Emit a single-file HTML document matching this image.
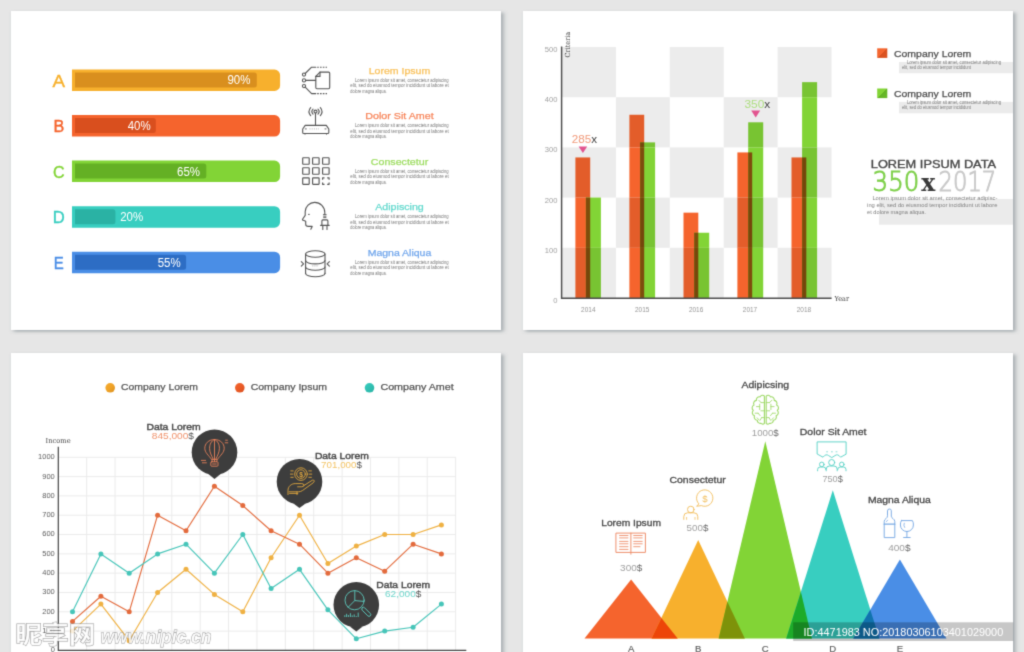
<!DOCTYPE html>
<html lang="en">
<head>
<meta charset="utf-8">
<title>Infographic charts</title>
<style>
html,body{margin:0;padding:0;background:#e6e6e6;}
body{width:1024px;height:652px;overflow:hidden;position:relative;}
svg{display:block;position:absolute;left:-20px;top:-20px;}
text{white-space:pre;}
.s{font-family:"Liberation Sans", "Noto Sans CJK SC", sans-serif;}
.f{font-family:"DejaVu Serif", "Liberation Serif", serif;}
.l{font-family:"DejaVu Sans Light", "DejaVu Sans", "Liberation Sans", sans-serif;font-weight:200;}
</style>
</head>
<body>
<svg width="1064" height="692" viewBox="-20 -20 1064 692">
<defs>
<filter id="bl" filterUnits="userSpaceOnUse" x="-20" y="-20" width="1064" height="692" color-interpolation-filters="sRGB"><feConvolveMatrix order="3" kernelMatrix="1 5 1 5 25 5 1 5 1" edgeMode="duplicate" preserveAlpha="true"/></filter>
<filter id="sh" x="-5%" y="-5%" width="110%" height="110%"><feDropShadow dx="2.5" dy="1.6" stdDeviation="2 1.5" flood-color="#5f6e75" flood-opacity="0.5"/></filter>
<linearGradient id="go" x1="0" y1="0" x2="1" y2="1"><stop offset="0" stop-color="#f4662f"/><stop offset="0.5" stop-color="#f4662f"/><stop offset="0.5" stop-color="#d9501f"/><stop offset="1" stop-color="#dc5623"/></linearGradient>
<linearGradient id="gg" x1="0" y1="0" x2="1" y2="1"><stop offset="0" stop-color="#82d436"/><stop offset="0.5" stop-color="#82d436"/><stop offset="0.5" stop-color="#62b325"/><stop offset="1" stop-color="#6bbb2b"/></linearGradient>
<linearGradient id="gy2" x1="0" y1="0" x2="1" y2="1"><stop offset="0" stop-color="#f5ab2e"/><stop offset="0.5" stop-color="#f0a328"/><stop offset="1" stop-color="#d98f1e"/></linearGradient>
<linearGradient id="go2" x1="0" y1="0" x2="1" y2="1"><stop offset="0" stop-color="#f4662f"/><stop offset="0.5" stop-color="#ea5b27"/><stop offset="1" stop-color="#d94f1e"/></linearGradient>
<linearGradient id="gc2" x1="0" y1="0" x2="1" y2="1"><stop offset="0" stop-color="#38cec0"/><stop offset="0.5" stop-color="#31c0b2"/><stop offset="1" stop-color="#2ab2a4"/></linearGradient>
</defs>
<g filter="url(#bl)">
<rect x="-20" y="-20" width="1064" height="692" fill="#e6e6e6"/>
<rect x="11" y="11" width="490" height="319" fill="#fff" filter="url(#sh)"/>
<rect x="523" y="11" width="490" height="319" fill="#fff" filter="url(#sh)"/>
<rect x="11" y="353" width="490" height="310" fill="#fff" filter="url(#sh)"/>
<rect x="523" y="353" width="490" height="310" fill="#fff" filter="url(#sh)"/>
<path d="M72.0 69.50H274.5a5.6 5.6 0 0 1 5.6 5.6V85.40a5.6 5.6 0 0 1 -5.6 5.6H72.0Z" fill="#f7b02d"/>
<path d="M75.0 72.50H254.30a2.5 2.5 0 0 1 2.5 2.5V85.00a2.5 2.5 0 0 1 -2.5 2.5H75.0Z" fill="#d98f1e"/>
<text class="s" x="58.8" y="86.8" font-size="16" fill="#f7b02d" text-anchor="middle" textLength="12.5" lengthAdjust="spacingAndGlyphs" stroke="#f7b02d" stroke-width="0.35">A</text>
<text class="s" x="250.4" y="84.4" font-size="12" fill="#fff" text-anchor="end" textLength="23.0" lengthAdjust="spacingAndGlyphs">90%</text>
<text class="s" x="399.5" y="73.8" font-size="9.6" fill="#f9c15b" text-anchor="middle" textLength="61.5" lengthAdjust="spacingAndGlyphs" stroke="#f9c15b" stroke-width="0.25">Lorem Ipsum</text>
<text class="s" x="355.0" y="81.8" font-size="4.7" fill="#757575" textLength="93.7" lengthAdjust="spacingAndGlyphs">Lorem ipsum dolor sit amet, consectetur adipiscing</text>
<text class="s" x="350.3" y="87.1" font-size="4.7" fill="#757575" textLength="98.4" lengthAdjust="spacingAndGlyphs">elit, sed do eiusmod tempor incididunt ut labore et</text>
<text class="s" x="350.3" y="92.5" font-size="4.7" fill="#757575" textLength="36.4" lengthAdjust="spacingAndGlyphs">dolore magna aliqua.</text>
<path d="M72.0 115.05H274.5a5.6 5.6 0 0 1 5.6 5.6V130.95a5.6 5.6 0 0 1 -5.6 5.6H72.0Z" fill="#f5642d"/>
<path d="M75.0 118.05H153.30a2.5 2.5 0 0 1 2.5 2.5V130.55a2.5 2.5 0 0 1 -2.5 2.5H75.0Z" fill="#d94f1e"/>
<text class="s" x="58.8" y="132.3" font-size="16" fill="#f5642d" text-anchor="middle" textLength="10.8" lengthAdjust="spacingAndGlyphs" stroke="#f5642d" stroke-width="0.35">B</text>
<text class="s" x="150.7" y="129.9" font-size="12" fill="#fff" text-anchor="end" textLength="23.0" lengthAdjust="spacingAndGlyphs">40%</text>
<text class="s" x="399.5" y="119.3" font-size="9.6" fill="#f7865b" text-anchor="middle" textLength="68.4" lengthAdjust="spacingAndGlyphs" stroke="#f7865b" stroke-width="0.25">Dolor Sit Amet</text>
<text class="s" x="355.0" y="127.3" font-size="4.7" fill="#757575" textLength="93.7" lengthAdjust="spacingAndGlyphs">Lorem ipsum dolor sit amet, consectetur adipiscing</text>
<text class="s" x="350.3" y="132.7" font-size="4.7" fill="#757575" textLength="98.4" lengthAdjust="spacingAndGlyphs">elit, sed do eiusmod tempor incididunt ut labore et</text>
<text class="s" x="350.3" y="138.0" font-size="4.7" fill="#757575" textLength="36.4" lengthAdjust="spacingAndGlyphs">dolore magna aliqua.</text>
<path d="M72.0 160.60H274.5a5.6 5.6 0 0 1 5.6 5.6V176.50a5.6 5.6 0 0 1 -5.6 5.6H72.0Z" fill="#82d436"/>
<path d="M75.0 163.60H203.80a2.5 2.5 0 0 1 2.5 2.5V176.10a2.5 2.5 0 0 1 -2.5 2.5H75.0Z" fill="#64b024"/>
<text class="s" x="58.8" y="177.9" font-size="16" fill="#82d436" text-anchor="middle" textLength="11.6" lengthAdjust="spacingAndGlyphs" stroke="#82d436" stroke-width="0.35">C</text>
<text class="s" x="200.0" y="175.5" font-size="12" fill="#fff" text-anchor="end" textLength="23.0" lengthAdjust="spacingAndGlyphs">65%</text>
<text class="s" x="399.5" y="164.9" font-size="9.6" fill="#9edd62" text-anchor="middle" textLength="57.4" lengthAdjust="spacingAndGlyphs" stroke="#9edd62" stroke-width="0.25">Consectetur</text>
<text class="s" x="355.0" y="172.9" font-size="4.7" fill="#757575" textLength="93.7" lengthAdjust="spacingAndGlyphs">Lorem ipsum dolor sit amet, consectetur adipiscing</text>
<text class="s" x="350.3" y="178.2" font-size="4.7" fill="#757575" textLength="98.4" lengthAdjust="spacingAndGlyphs">elit, sed do eiusmod tempor incididunt ut labore et</text>
<text class="s" x="350.3" y="183.6" font-size="4.7" fill="#757575" textLength="36.4" lengthAdjust="spacingAndGlyphs">dolore magna aliqua.</text>
<path d="M72.0 206.15H274.5a5.6 5.6 0 0 1 5.6 5.6V222.05a5.6 5.6 0 0 1 -5.6 5.6H72.0Z" fill="#38cec0"/>
<path d="M75.0 209.15H112.90a2.5 2.5 0 0 1 2.5 2.5V221.65a2.5 2.5 0 0 1 -2.5 2.5H75.0Z" fill="#2ab2a4"/>
<text class="s" x="58.8" y="223.4" font-size="16" fill="#38cec0" text-anchor="middle" textLength="12.0" lengthAdjust="spacingAndGlyphs" stroke="#38cec0" stroke-width="0.35">D</text>
<text class="s" x="120.2" y="221.0" font-size="12" fill="#fff" textLength="23.0" lengthAdjust="spacingAndGlyphs">20%</text>
<text class="s" x="399.5" y="210.4" font-size="9.6" fill="#64d9ce" text-anchor="middle" textLength="48.6" lengthAdjust="spacingAndGlyphs" stroke="#64d9ce" stroke-width="0.25">Adipiscing</text>
<text class="s" x="355.0" y="218.4" font-size="4.7" fill="#757575" textLength="93.7" lengthAdjust="spacingAndGlyphs">Lorem ipsum dolor sit amet, consectetur adipiscing</text>
<text class="s" x="350.3" y="223.8" font-size="4.7" fill="#757575" textLength="98.4" lengthAdjust="spacingAndGlyphs">elit, sed do eiusmod tempor incididunt ut labore et</text>
<text class="s" x="350.3" y="229.1" font-size="4.7" fill="#757575" textLength="36.4" lengthAdjust="spacingAndGlyphs">dolore magna aliqua.</text>
<path d="M72.0 251.70H274.5a5.6 5.6 0 0 1 5.6 5.6V267.60a5.6 5.6 0 0 1 -5.6 5.6H72.0Z" fill="#4a8ee6"/>
<path d="M75.0 254.70H183.60a2.5 2.5 0 0 1 2.5 2.5V267.20a2.5 2.5 0 0 1 -2.5 2.5H75.0Z" fill="#2d6dc4"/>
<text class="s" x="58.8" y="269.0" font-size="16" fill="#4a8ee6" text-anchor="middle" textLength="10.0" lengthAdjust="spacingAndGlyphs" stroke="#4a8ee6" stroke-width="0.35">E</text>
<text class="s" x="180.7" y="266.6" font-size="12" fill="#fff" text-anchor="end" textLength="23.0" lengthAdjust="spacingAndGlyphs">55%</text>
<text class="s" x="399.5" y="256.0" font-size="9.6" fill="#72a7ec" text-anchor="middle" textLength="63.6" lengthAdjust="spacingAndGlyphs" stroke="#72a7ec" stroke-width="0.25">Magna Aliqua</text>
<text class="s" x="355.0" y="264.0" font-size="4.7" fill="#757575" textLength="93.7" lengthAdjust="spacingAndGlyphs">Lorem ipsum dolor sit amet, consectetur adipiscing</text>
<text class="s" x="350.3" y="269.3" font-size="4.7" fill="#757575" textLength="98.4" lengthAdjust="spacingAndGlyphs">elit, sed do eiusmod tempor incididunt ut labore et</text>
<text class="s" x="350.3" y="274.7" font-size="4.7" fill="#757575" textLength="36.4" lengthAdjust="spacingAndGlyphs">dolore magna aliqua.</text>
<g fill="none" stroke="#555" stroke-width="1.1" stroke-linecap="round" stroke-linejoin="round"><path d="M315.8 76.4L320 72.1H328.6a1.1 1.1 0 0 1 1.1 1.1V87.6a1.1 1.1 0 0 1 -1.1 1.1H316.9a1.1 1.1 0 0 1 -1.1 -1.1Z"/><path d="M315.8 76.4H320V72.1"/><circle cx="304" cy="74.6" r="1.6"/><circle cx="304" cy="80.4" r="1.6"/><circle cx="304" cy="86.1" r="1.6"/><path d="M305.2 73.5L311.6 67.2H315.8"/><path d="M305.7 80.4H315.6"/><path d="M305.2 87.2L311.6 93.6H315.8"/><path d="M317.2 67.2H327M317.2 93.6H327" stroke-dasharray="1.6 1.2" stroke-linecap="butt"/></g>
<g fill="none" stroke="#555" stroke-width="1.1" stroke-linecap="round" stroke-linejoin="round"><path d="M305.2 125.4H326.3L328.8 129V132.4a1.1 1.1 0 0 1 -1.1 1.1H303.8a1.1 1.1 0 0 1 -1.1 -1.1V129Z"/><path d="M305 134.1V133.6M326.5 134.1V133.6"/><path d="M305.3 128.9H306.3M325 128.9H326" stroke-width="0.9"/><path d="M309.5 128.9H319" stroke-width="0.8" stroke-dasharray="1 1.2" stroke="#999" stroke-linecap="butt"/><path d="M315.5 113.1V125.2"/><circle cx="315.5" cy="111.6" r="1.5"/><path d="M313.03 114.07A3.5 3.5 0 0 1 313.03 109.13M317.97 109.13A3.5 3.5 0 0 1 317.97 114.07M310.67 115.65A6.3 6.3 0 0 1 310.67 107.55M320.33 107.55A6.3 6.3 0 0 1 320.33 115.65"/></g>
<g fill="none" stroke="#555" stroke-width="1.15" stroke-linecap="round" stroke-linejoin="round"><rect x="302.7" y="157.7" width="6.5" height="6.5" rx="0.5"/><rect x="312.6" y="157.7" width="6.5" height="6.5" rx="0.5"/><rect x="322.6" y="157.7" width="6.5" height="6.5" rx="0.5"/><rect x="302.7" y="167.7" width="6.5" height="6.5" rx="0.5"/><rect x="312.6" y="167.7" width="6.5" height="6.5" rx="0.5"/><rect x="322.6" y="167.7" width="6.5" height="6.5" rx="0.5"/><rect x="302.7" y="177.8" width="6.5" height="6.5" rx="0.5"/><rect x="312.6" y="177.8" width="6.5" height="6.5" rx="0.5"/><path d="M322.6 179.70000000000002V177.8H324.5M327.20000000000005 177.8H329.1V179.70000000000002M329.1 182.4V184.3H327.20000000000005M324.5 184.3H322.6V182.4" stroke-linecap="butt"/></g>
<g fill="none" stroke="#555" stroke-width="1.1" stroke-linecap="round" stroke-linejoin="round"><path d="M310.8 229.3L312.2 226.4H308.3Q305.7 226.3 305.7 224.2V221.3L302.6 220.1Q302.3 219.6 302.7 219L305.2 215.4V211.6A9.4 9.4 0 0 1 314.6 202.4A10.1 10.1 0 0 1 324.8 212.6V214.2"/><path d="M308.4 214.4H309.4" stroke-width="0.9"/><path d="M323.4 214.6H326.2M323.6 216.2H326M323.6 217.6H326" stroke-width="0.9"/><path d="M321.9 225.3V220.9a1 1 0 0 1 1 -1H326.9a1 1 0 0 1 1 1V225.3"/><path d="M320.6 225.4H329.2M322.8 225.6V229.4M327 225.6V229.4"/></g>
<g fill="none" stroke="#555" stroke-width="1.1" stroke-linecap="round" stroke-linejoin="round"><ellipse cx="315.3" cy="254" rx="9.7" ry="3.3"/><path d="M305.6 254V273.4M325 254V273.4"/><path d="M305.6 260.6A9.7 3.3 0 0 0 325 260.6"/><path d="M305.6 267.0A9.7 3.3 0 0 0 325 267.0"/><path d="M305.6 273.4A9.7 3.3 0 0 0 325 273.4"/><path d="M312.2 265.9H318.6" stroke-dasharray="1.2 0.9" stroke-width="0.9" stroke="#aaa" stroke-linecap="butt"/><path d="M301.3 261.7L303.6 263.9L301.3 266.2M329.4 261.7L327.1 263.9L329.4 266.2"/></g>
<rect x="562.00" y="47.00" width="53.90" height="50.20" fill="#ececec"/>
<rect x="669.80" y="47.00" width="53.90" height="50.20" fill="#ececec"/>
<rect x="777.60" y="47.00" width="53.90" height="50.20" fill="#ececec"/>
<rect x="615.90" y="97.20" width="53.90" height="50.20" fill="#ececec"/>
<rect x="723.70" y="97.20" width="53.90" height="50.20" fill="#ececec"/>
<rect x="562.00" y="147.40" width="53.90" height="50.20" fill="#ececec"/>
<rect x="669.80" y="147.40" width="53.90" height="50.20" fill="#ececec"/>
<rect x="777.60" y="147.40" width="53.90" height="50.20" fill="#ececec"/>
<rect x="615.90" y="197.60" width="53.90" height="50.20" fill="#ececec"/>
<rect x="723.70" y="197.60" width="53.90" height="50.20" fill="#ececec"/>
<rect x="562.00" y="247.80" width="53.90" height="50.20" fill="#ececec"/>
<rect x="669.80" y="247.80" width="53.90" height="50.20" fill="#ececec"/>
<rect x="777.60" y="247.80" width="53.90" height="50.20" fill="#ececec"/>
<rect x="575.40" y="157.44" width="14.80" height="40.21" fill="#e35d2a"/>
<rect x="575.40" y="197.60" width="14.80" height="50.25" fill="#f5642d"/>
<rect x="575.40" y="247.80" width="14.80" height="50.25" fill="#e35d2a"/>
<rect x="585.90" y="197.60" width="15.00" height="0.05" fill="#78c432"/>
<rect x="585.90" y="197.60" width="15.00" height="50.25" fill="#82d436"/>
<rect x="585.90" y="247.80" width="15.00" height="50.25" fill="#78c432"/>
<rect x="585.90" y="197.60" width="4.30" height="0.05" fill="#75470b"/>
<rect x="585.90" y="197.60" width="4.30" height="50.25" fill="#7e4d0c"/>
<rect x="585.90" y="247.80" width="4.30" height="50.25" fill="#75470b"/>
<rect x="629.40" y="114.77" width="14.80" height="32.68" fill="#e35d2a"/>
<rect x="629.40" y="147.40" width="14.80" height="50.25" fill="#f5642d"/>
<rect x="629.40" y="197.60" width="14.80" height="50.25" fill="#e35d2a"/>
<rect x="629.40" y="247.80" width="14.80" height="50.25" fill="#f5642d"/>
<rect x="640.10" y="142.38" width="15.00" height="5.07" fill="#78c432"/>
<rect x="640.10" y="147.40" width="15.00" height="50.25" fill="#82d436"/>
<rect x="640.10" y="197.60" width="15.00" height="50.25" fill="#78c432"/>
<rect x="640.10" y="247.80" width="15.00" height="50.25" fill="#82d436"/>
<rect x="640.10" y="142.38" width="4.10" height="5.07" fill="#75470b"/>
<rect x="640.10" y="147.40" width="4.10" height="50.25" fill="#7e4d0c"/>
<rect x="640.10" y="197.60" width="4.10" height="50.25" fill="#75470b"/>
<rect x="640.10" y="247.80" width="4.10" height="50.25" fill="#7e4d0c"/>
<rect x="683.50" y="212.66" width="14.80" height="35.19" fill="#f5642d"/>
<rect x="683.50" y="247.80" width="14.80" height="50.25" fill="#e35d2a"/>
<rect x="694.20" y="232.74" width="15.00" height="15.11" fill="#82d436"/>
<rect x="694.20" y="247.80" width="15.00" height="50.25" fill="#78c432"/>
<rect x="694.20" y="232.74" width="4.10" height="15.11" fill="#7e4d0c"/>
<rect x="694.20" y="247.80" width="4.10" height="50.25" fill="#75470b"/>
<rect x="737.40" y="152.42" width="14.80" height="45.23" fill="#f5642d"/>
<rect x="737.40" y="197.60" width="14.80" height="50.25" fill="#e35d2a"/>
<rect x="737.40" y="247.80" width="14.80" height="50.25" fill="#f5642d"/>
<rect x="748.20" y="122.30" width="15.00" height="25.15" fill="#78c432"/>
<rect x="748.20" y="147.40" width="15.00" height="50.25" fill="#82d436"/>
<rect x="748.20" y="197.60" width="15.00" height="50.25" fill="#78c432"/>
<rect x="748.20" y="247.80" width="15.00" height="50.25" fill="#82d436"/>
<rect x="748.20" y="152.42" width="4.00" height="45.23" fill="#7e4d0c"/>
<rect x="748.20" y="197.60" width="4.00" height="50.25" fill="#75470b"/>
<rect x="748.20" y="247.80" width="4.00" height="50.25" fill="#7e4d0c"/>
<rect x="791.50" y="157.44" width="14.80" height="40.21" fill="#e35d2a"/>
<rect x="791.50" y="197.60" width="14.80" height="50.25" fill="#f5642d"/>
<rect x="791.50" y="247.80" width="14.80" height="50.25" fill="#e35d2a"/>
<rect x="802.10" y="82.14" width="15.00" height="15.11" fill="#78c432"/>
<rect x="802.10" y="97.20" width="15.00" height="50.25" fill="#82d436"/>
<rect x="802.10" y="147.40" width="15.00" height="50.25" fill="#78c432"/>
<rect x="802.10" y="197.60" width="15.00" height="50.25" fill="#82d436"/>
<rect x="802.10" y="247.80" width="15.00" height="50.25" fill="#78c432"/>
<rect x="802.10" y="157.44" width="4.20" height="40.21" fill="#75470b"/>
<rect x="802.10" y="197.60" width="4.20" height="50.25" fill="#7e4d0c"/>
<rect x="802.10" y="247.80" width="4.20" height="50.25" fill="#75470b"/>
<path d="M561.6 46.5V298.2H831.6" fill="none" stroke="#4c4c4c" stroke-width="1.45"/>
<text class="s" x="557.4" y="52.0" font-size="7.6" fill="#a0a0a0" text-anchor="end">500</text>
<text class="s" x="557.4" y="102.2" font-size="7.6" fill="#a0a0a0" text-anchor="end">400</text>
<text class="s" x="557.4" y="152.4" font-size="7.6" fill="#a0a0a0" text-anchor="end">300</text>
<text class="s" x="557.4" y="202.6" font-size="7.6" fill="#a0a0a0" text-anchor="end">200</text>
<text class="s" x="557.4" y="252.8" font-size="7.6" fill="#a0a0a0" text-anchor="end">100</text>
<text class="s" x="557.4" y="303.0" font-size="7.6" fill="#a0a0a0" text-anchor="end">0</text>
<text class="s" x="588.3" y="311.9" font-size="7.2" fill="#969696" text-anchor="middle" textLength="14.4" lengthAdjust="spacingAndGlyphs">2014</text>
<text class="s" x="642.2" y="311.9" font-size="7.2" fill="#969696" text-anchor="middle" textLength="14.4" lengthAdjust="spacingAndGlyphs">2015</text>
<text class="s" x="696.1" y="311.9" font-size="7.2" fill="#969696" text-anchor="middle" textLength="14.4" lengthAdjust="spacingAndGlyphs">2016</text>
<text class="s" x="750.0" y="311.9" font-size="7.2" fill="#969696" text-anchor="middle" textLength="14.4" lengthAdjust="spacingAndGlyphs">2017</text>
<text class="s" x="803.9" y="311.9" font-size="7.2" fill="#969696" text-anchor="middle" textLength="14.4" lengthAdjust="spacingAndGlyphs">2018</text>
<text class="f" x="834.5" y="300.7" font-size="7" fill="#3c3c3c" textLength="14.5" lengthAdjust="spacingAndGlyphs">Year</text>
<text class="f" font-size="7" fill="#444" transform="translate(569.6 57.4) rotate(-90)" textLength="25.6" lengthAdjust="spacingAndGlyphs">Criteria</text>
<text class="s" x="571.8" y="143.4" font-size="11.6" textLength="25.3" lengthAdjust="spacingAndGlyphs"><tspan fill="#f19a7a">285</tspan><tspan fill="#444">x</tspan></text>
<path d="M578.6 146.4H587.2L582.9 153Z" fill="#e2548f"/>
<text class="s" x="744.5" y="108.1" font-size="11.6" textLength="25.8" lengthAdjust="spacingAndGlyphs"><tspan fill="#aede80">350</tspan><tspan fill="#444">x</tspan></text>
<path d="M751.2 110.6H760.2L755.7 117.4Z" fill="#e2548f"/>
<rect x="899" y="62" width="114" height="11.2" fill="#ebebeb"/>
<rect x="899" y="101.9" width="114" height="11.4" fill="#ebebeb"/>
<rect x="879" y="199" width="134" height="25.7" fill="#ebebeb"/>
<rect x="877.2" y="48.3" width="10.1" height="9.6" fill="url(#go)"/>
<rect x="877.2" y="88.5" width="10.1" height="9.6" fill="url(#gg)"/>
<text class="s" x="894.0" y="56.7" font-size="9.3" fill="#505050" textLength="77.3" lengthAdjust="spacingAndGlyphs" stroke="#505050" stroke-width="0.25">Company Lorem</text>
<text class="s" x="894.0" y="96.7" font-size="9.3" fill="#505050" textLength="77.3" lengthAdjust="spacingAndGlyphs" stroke="#505050" stroke-width="0.25">Company Lorem</text>
<text class="s" x="906.9" y="63.8" font-size="4.6" fill="#787878" textLength="94.1" lengthAdjust="spacingAndGlyphs">Lorem ipsum dolor sit amet, consectetur adipiscing</text>
<text class="s" x="901.9" y="69.0" font-size="4.6" fill="#787878" textLength="69.1" lengthAdjust="spacingAndGlyphs">elit, sed do eiusmod tempor incididunt</text>
<text class="s" x="906.9" y="103.7" font-size="4.6" fill="#787878" textLength="94.1" lengthAdjust="spacingAndGlyphs">Lorem ipsum dolor sit amet, consectetur adipiscing</text>
<text class="s" x="901.9" y="108.9" font-size="4.6" fill="#787878" textLength="69.1" lengthAdjust="spacingAndGlyphs">elit, sed do eiusmod tempor incididunt</text>
<text class="s" x="870.8" y="167.9" font-size="11.2" fill="#484848" textLength="125.3" lengthAdjust="spacingAndGlyphs" stroke="#484848" stroke-width="0.35">LOREM IPSUM DATA</text>
<text class="l" x="872.6" y="191.1" font-size="27.4" fill="#7fd04b" textLength="46.6" lengthAdjust="spacingAndGlyphs" stroke="#7fd04b" stroke-width="1.0">350</text>
<text class="f" x="921.2" y="191.1" font-size="25" fill="#3a3a3a" font-weight="bold" textLength="14.0" lengthAdjust="spacingAndGlyphs">x</text>
<text class="l" x="938.6" y="191.1" font-size="27.4" fill="#c9c9c9" textLength="57.6" lengthAdjust="spacingAndGlyphs" stroke="#c9c9c9" stroke-width="1.0">2017</text>
<text class="s" x="872.4" y="200.1" font-size="5.4" fill="#808080" textLength="125.0" lengthAdjust="spacingAndGlyphs">Lorem ipsum dolor sit amet, consectetur adipisc-</text>
<text class="s" x="867.1" y="206.8" font-size="5.4" fill="#808080" textLength="130.3" lengthAdjust="spacingAndGlyphs">ing elit, sed do eiusmod tempor incididunt ut labore</text>
<text class="s" x="867.1" y="213.6" font-size="5.4" fill="#808080" textLength="58.9" lengthAdjust="spacingAndGlyphs">et dolore magna aliqua.</text>
<path d="M86.68 457.3V650M115.06 457.3V650M143.44 457.3V650M171.82 457.3V650M200.20 457.3V650M228.58 457.3V650M256.96 457.3V650M285.34 457.3V650M313.72 457.3V650M342.10 457.3V650M370.48 457.3V650M398.86 457.3V650M427.24 457.3V650M455.62 457.3V650M58.3 457.30H455.8M58.3 476.61H455.8M58.3 495.92H455.8M58.3 515.23H455.8M58.3 534.54H455.8M58.3 553.85H455.8M58.3 573.16H455.8M58.3 592.47H455.8M58.3 611.78H455.8M58.3 631.09H455.8" fill="none" stroke="#ebebeb" stroke-width="1"/>
<text class="s" x="54.8" y="459.2" font-size="7.5" fill="#5c5c5c" text-anchor="end">1000</text>
<text class="s" x="54.8" y="478.5" font-size="7.5" fill="#5c5c5c" text-anchor="end">900</text>
<text class="s" x="54.8" y="497.8" font-size="7.5" fill="#5c5c5c" text-anchor="end">800</text>
<text class="s" x="54.8" y="517.1" font-size="7.5" fill="#5c5c5c" text-anchor="end">700</text>
<text class="s" x="54.8" y="536.4" font-size="7.5" fill="#5c5c5c" text-anchor="end">600</text>
<text class="s" x="54.8" y="555.8" font-size="7.5" fill="#5c5c5c" text-anchor="end">500</text>
<text class="s" x="54.8" y="575.1" font-size="7.5" fill="#5c5c5c" text-anchor="end">400</text>
<text class="s" x="54.8" y="594.4" font-size="7.5" fill="#5c5c5c" text-anchor="end">300</text>
<text class="s" x="54.8" y="613.7" font-size="7.5" fill="#5c5c5c" text-anchor="end">200</text>
<text class="s" x="54.8" y="633.0" font-size="7.5" fill="#5c5c5c" text-anchor="end">100</text>
<text class="s" x="54.8" y="652.3" font-size="7.5" fill="#5c5c5c" text-anchor="end">0</text>
<text class="f" x="45.6" y="442.7" font-size="7" fill="#484848" textLength="25.0" lengthAdjust="spacingAndGlyphs">Income</text>
<polyline points="72.5,631.1 100.9,604.1 129.2,640.7 157.6,592.5 186.0,569.3 214.4,594.4 242.8,611.8 271.1,557.7 299.5,515.2 327.9,563.5 356.3,546.1 384.7,534.5 413.1,534.5 441.4,524.9" fill="none" stroke="#efb143" stroke-width="1.15" stroke-linejoin="round"/>
<circle cx="72.5" cy="631.1" r="2.5" fill="#efb143"/>
<circle cx="100.9" cy="604.1" r="2.5" fill="#efb143"/>
<circle cx="129.2" cy="640.7" r="2.5" fill="#efb143"/>
<circle cx="157.6" cy="592.5" r="2.5" fill="#efb143"/>
<circle cx="186.0" cy="569.3" r="2.5" fill="#efb143"/>
<circle cx="214.4" cy="594.4" r="2.5" fill="#efb143"/>
<circle cx="242.8" cy="611.8" r="2.5" fill="#efb143"/>
<circle cx="271.1" cy="557.7" r="2.5" fill="#efb143"/>
<circle cx="299.5" cy="515.2" r="2.5" fill="#efb143"/>
<circle cx="327.9" cy="563.5" r="2.5" fill="#efb143"/>
<circle cx="356.3" cy="546.1" r="2.5" fill="#efb143"/>
<circle cx="384.7" cy="534.5" r="2.5" fill="#efb143"/>
<circle cx="413.1" cy="534.5" r="2.5" fill="#efb143"/>
<circle cx="441.4" cy="524.9" r="2.5" fill="#efb143"/>
<polyline points="72.5,621.4 100.9,596.3 129.2,611.8 157.6,515.2 186.0,530.7 214.4,486.3 242.8,505.6 271.1,530.7 299.5,544.2 327.9,573.2 356.3,557.7 384.7,571.2 413.1,544.2 441.4,553.9" fill="none" stroke="#e36b3d" stroke-width="1.15" stroke-linejoin="round"/>
<circle cx="72.5" cy="621.4" r="2.5" fill="#e36b3d"/>
<circle cx="100.9" cy="596.3" r="2.5" fill="#e36b3d"/>
<circle cx="129.2" cy="611.8" r="2.5" fill="#e36b3d"/>
<circle cx="157.6" cy="515.2" r="2.5" fill="#e36b3d"/>
<circle cx="186.0" cy="530.7" r="2.5" fill="#e36b3d"/>
<circle cx="214.4" cy="486.3" r="2.5" fill="#e36b3d"/>
<circle cx="242.8" cy="505.6" r="2.5" fill="#e36b3d"/>
<circle cx="271.1" cy="530.7" r="2.5" fill="#e36b3d"/>
<circle cx="299.5" cy="544.2" r="2.5" fill="#e36b3d"/>
<circle cx="327.9" cy="573.2" r="2.5" fill="#e36b3d"/>
<circle cx="356.3" cy="557.7" r="2.5" fill="#e36b3d"/>
<circle cx="384.7" cy="571.2" r="2.5" fill="#e36b3d"/>
<circle cx="413.1" cy="544.2" r="2.5" fill="#e36b3d"/>
<circle cx="441.4" cy="553.9" r="2.5" fill="#e36b3d"/>
<polyline points="72.5,611.8 100.9,553.9 129.2,573.2 157.6,553.9 186.0,544.2 214.4,573.2 242.8,534.5 271.1,588.6 299.5,569.3 327.9,609.8 356.3,638.8 384.7,631.1 413.1,627.2 441.4,604.1" fill="none" stroke="#47c5b9" stroke-width="1.15" stroke-linejoin="round"/>
<circle cx="72.5" cy="611.8" r="2.5" fill="#47c5b9"/>
<circle cx="100.9" cy="553.9" r="2.5" fill="#47c5b9"/>
<circle cx="129.2" cy="573.2" r="2.5" fill="#47c5b9"/>
<circle cx="157.6" cy="553.9" r="2.5" fill="#47c5b9"/>
<circle cx="186.0" cy="544.2" r="2.5" fill="#47c5b9"/>
<circle cx="214.4" cy="573.2" r="2.5" fill="#47c5b9"/>
<circle cx="242.8" cy="534.5" r="2.5" fill="#47c5b9"/>
<circle cx="271.1" cy="588.6" r="2.5" fill="#47c5b9"/>
<circle cx="299.5" cy="569.3" r="2.5" fill="#47c5b9"/>
<circle cx="327.9" cy="609.8" r="2.5" fill="#47c5b9"/>
<circle cx="356.3" cy="638.8" r="2.5" fill="#47c5b9"/>
<circle cx="384.7" cy="631.1" r="2.5" fill="#47c5b9"/>
<circle cx="413.1" cy="627.2" r="2.5" fill="#47c5b9"/>
<circle cx="441.4" cy="604.1" r="2.5" fill="#47c5b9"/>
<path d="M58.3 446.8V650.4H466.3" fill="none" stroke="#444" stroke-width="1.2"/>
<circle cx="110.2" cy="387.8" r="4.8" fill="url(#gy2)"/>
<text class="s" x="121.0" y="390.4" font-size="9.5" fill="#555" textLength="76.9" lengthAdjust="spacingAndGlyphs" stroke="#555" stroke-width="0.25">Company Lorem</text>
<circle cx="239.8" cy="387.8" r="4.8" fill="url(#go2)"/>
<text class="s" x="250.7" y="390.4" font-size="9.5" fill="#555" textLength="76.3" lengthAdjust="spacingAndGlyphs" stroke="#555" stroke-width="0.25">Company Ipsum</text>
<circle cx="369.5" cy="387.8" r="4.8" fill="url(#gc2)"/>
<text class="s" x="380.4" y="390.4" font-size="9.5" fill="#555" textLength="73.3" lengthAdjust="spacingAndGlyphs" stroke="#555" stroke-width="0.25">Company Amet</text>
<path d="M208.1 473.8L214.5 478.9L220.9 473.8Z" fill="#3d3d3d"/>
<circle cx="214.5" cy="452.2" r="22.8" fill="#3d3d3d"/>
<path d="M293.1 503.3L299.5 507.9L305.9 503.3Z" fill="#3d3d3d"/>
<circle cx="299.5" cy="481.7" r="22.8" fill="#3d3d3d"/>
<path d="M349.9 626.4L356.3 631.4L362.7 626.4Z" fill="#3d3d3d"/>
<circle cx="356.3" cy="604.8" r="22.8" fill="#3d3d3d"/>
<g fill="none" stroke="#e4805a" stroke-width="0.9" stroke-linecap="round" stroke-linejoin="round"><path d="M214.5 439.5C208.3 439.5 204.8 443.8 204.8 448.3C204.8 452.6 208.6 455.2 211.6 459.4H217.4C220.4 455.2 224.2 452.6 224.2 448.3C224.2 443.8 220.7 439.5 214.5 439.5Z"/><path d="M214.5 439.5C211 441 209.6 444.6 209.6 448.3C209.6 452.3 211.5 455.6 213.3 459.4M214.5 439.5C218 441 219.4 444.6 219.4 448.3C219.4 452.3 217.5 455.6 215.7 459.4M214.5 439.5V461.6"/><path d="M211.8 459.6L212.4 461.6M217.2 459.6L216.6 461.6"/><rect x="210.8" y="461.8" width="7.2" height="4.4" rx="0.8"/><path d="M212.6 464H216.2"/><path d="M201.4 460.4H205.6M202.4 462.8H206.4M225.6 440.2H227.4M225.2 442.8H227.8"/></g>
<g fill="none" stroke="#dfa63e" stroke-width="0.9" stroke-linecap="round" stroke-linejoin="round"><circle cx="301" cy="474.1" r="6.3"/><circle cx="301" cy="474.1" r="4.3"/><path d="M290.8 470.9H293.2M290.4 474.1H293M290.8 477.3H293.2M308.8 470.9H311.4M309 474.1H311.8M308.8 477.3H311.4"/><path d="M288 494.6V490.4C288 486.4 291.4 483.6 295.2 483.6H301.8Q304 483.8 304 485.2Q304 486.6 301.8 486.8H297.6"/><path d="M303.8 485.6L312.4 480.2Q313.8 479.6 314.2 480.8Q314.4 481.8 313.2 482.8L302.4 490.6Q300.6 491.8 298.4 491.8H289.2"/><path d="M289.6 493.4H297.8M297 491.9V494.6"/></g>
<text class="s" x="301" y="476.5" font-size="6.6" fill="#dfa63e" text-anchor="middle" font-weight="bold">$</text>
<g fill="none" stroke="#5ccabd" stroke-width="0.9" stroke-linecap="round" stroke-linejoin="round"><circle cx="354.6" cy="600.2" r="9.6"/><path d="M354.8 590.6V600.6L364.1 601.4M354.8 600.6L348.2 607.2"/><rect x="-1.7" y="0" width="3.4" height="11.4" rx="1.7" transform="translate(362.2 607.8) rotate(-45)"/><path d="M344.8 617V615.2M346.6 617V613.8M348.4 617V615M350.4 617V613.2M352.2 617V615.4M354.2 617V614.4M356.2 617V616M358.2 617V612.6" stroke-width="0.9" stroke-linecap="butt"/></g>
<text class="s" x="146.4" y="430.3" font-size="9.3" fill="#4a4a4a" textLength="54.2" lengthAdjust="spacingAndGlyphs" stroke="#4a4a4a" stroke-width="0.4">Data Lorem</text>
<text class="s" x="151.8" y="439.2" font-size="9.4" textLength="42.2" lengthAdjust="spacingAndGlyphs"><tspan fill="#f0946e">845,000</tspan><tspan fill="#555">$</tspan></text>
<text class="s" x="314.9" y="459.0" font-size="9.3" fill="#4a4a4a" textLength="54.0" lengthAdjust="spacingAndGlyphs" stroke="#4a4a4a" stroke-width="0.4">Data Lorem</text>
<text class="s" x="321.1" y="467.9" font-size="9.4" textLength="40.8" lengthAdjust="spacingAndGlyphs"><tspan fill="#f3c466">701,000</tspan><tspan fill="#555">$</tspan></text>
<text class="s" x="376.2" y="588.1" font-size="9.3" fill="#4a4a4a" textLength="54.0" lengthAdjust="spacingAndGlyphs" stroke="#4a4a4a" stroke-width="0.4">Data Lorem</text>
<text class="s" x="385.0" y="597.0" font-size="9.4" textLength="36.4" lengthAdjust="spacingAndGlyphs"><tspan fill="#6fd6cc">62,000</tspan><tspan fill="#555">$</tspan></text>
<path d="M584.5 638.6L631.1 579.5L677.7 638.6Z" fill="#f5642d"/>
<path d="M651.6 638.6L698.2 539.9L744.8 638.6Z" fill="#f7b02d"/>
<path d="M718.7 638.6L765.3 441.2L811.9 638.6Z" fill="#82d436"/>
<path d="M786.2 638.6L832.8 490.3L879.4 638.6Z" fill="#38cec0"/>
<path d="M853.3 638.6L899.9 559.6L946.5 638.6Z" fill="#4a8ee6"/>
<path d="M651.6 638.6L661.4 617.9L677.7 638.6Z" fill="#ed4508"/>
<path d="M718.7 638.6L727.4 601.7L744.8 638.6Z" fill="#7e920a"/>
<path d="M786.2 638.6L800.9 591.9L811.9 638.6Z" fill="#1dab29"/>
<path d="M853.3 638.6L870.3 609.7L879.4 638.6Z" fill="#1073ad"/>
<text class="s" x="601.2" y="525.6" font-size="9.4" fill="#4a4a4a" textLength="59.8" lengthAdjust="spacingAndGlyphs" stroke="#4a4a4a" stroke-width="0.3">Lorem Ipsum</text>
<text class="s" x="620.1" y="570.9" font-size="9.2" textLength="22.2" lengthAdjust="spacingAndGlyphs"><tspan fill="#a0a0a0">300</tspan><tspan fill="#6a6a6a">$</tspan></text>
<text class="s" x="669.5" y="483.3" font-size="9.4" fill="#4a4a4a" textLength="56.3" lengthAdjust="spacingAndGlyphs" stroke="#4a4a4a" stroke-width="0.3">Consectetur</text>
<text class="s" x="686.6" y="531.1" font-size="9.2" textLength="21.8" lengthAdjust="spacingAndGlyphs"><tspan fill="#a0a0a0">500</tspan><tspan fill="#6a6a6a">$</tspan></text>
<text class="s" x="741.5" y="387.5" font-size="9.4" fill="#4a4a4a" textLength="47.6" lengthAdjust="spacingAndGlyphs" stroke="#4a4a4a" stroke-width="0.3">Adipicsing</text>
<text class="s" x="751.8" y="435.7" font-size="9.2" textLength="27.0" lengthAdjust="spacingAndGlyphs"><tspan fill="#a0a0a0">1000</tspan><tspan fill="#6a6a6a">$</tspan></text>
<text class="s" x="799.8" y="434.6" font-size="9.4" fill="#4a4a4a" textLength="66.7" lengthAdjust="spacingAndGlyphs" stroke="#4a4a4a" stroke-width="0.3">Dolor Sit Amet</text>
<text class="s" x="822.4" y="482.1" font-size="9.2" textLength="20.4" lengthAdjust="spacingAndGlyphs"><tspan fill="#a0a0a0">750</tspan><tspan fill="#6a6a6a">$</tspan></text>
<text class="s" x="867.9" y="503.2" font-size="9.4" fill="#4a4a4a" textLength="62.8" lengthAdjust="spacingAndGlyphs" stroke="#4a4a4a" stroke-width="0.3">Magna Aliqua</text>
<text class="s" x="888.2" y="551.0" font-size="9.2" textLength="22.4" lengthAdjust="spacingAndGlyphs"><tspan fill="#a0a0a0">400</tspan><tspan fill="#6a6a6a">$</tspan></text>
<text class="s" x="631.1" y="652.4" font-size="9.6" fill="#5a5a5a" text-anchor="middle" stroke="#5a5a5a" stroke-width="0.15">A</text>
<text class="s" x="698.2" y="652.4" font-size="9.6" fill="#5a5a5a" text-anchor="middle" stroke="#5a5a5a" stroke-width="0.15">B</text>
<text class="s" x="765.3" y="652.4" font-size="9.6" fill="#5a5a5a" text-anchor="middle" stroke="#5a5a5a" stroke-width="0.15">C</text>
<text class="s" x="832.8" y="652.4" font-size="9.6" fill="#5a5a5a" text-anchor="middle" stroke="#5a5a5a" stroke-width="0.15">D</text>
<text class="s" x="899.9" y="652.4" font-size="9.6" fill="#5a5a5a" text-anchor="middle" stroke="#5a5a5a" stroke-width="0.15">E</text>
<g fill="none" stroke="#ee8f6c" stroke-width="1.0" stroke-linecap="round" stroke-linejoin="round"><path d="M616.3 533.1H645.4V552.4H616.3ZM630.9 533.1V554.2"/><path d="M619.2 535.5H628.4M619.2 537.9H628.4M619.2 541.4H628.4M619.2 543.8H628.4M619.2 546.7H628.4M619.2 549.4H628.4M633.3 535.5H642.6M633.3 537.9H642.6M633.3 541.4H642.6M633.3 543.8H642.6M633.3 546.7H640.4" stroke-width="0.9" stroke-linecap="butt"/></g>
<g fill="none" stroke="#f2c062" stroke-width="0.95" stroke-linecap="round" stroke-linejoin="round"><path d="M698.6 503.6A8.2 8.2 0 1 1 701.4 505.6L697 506.2Z"/><circle cx="690.8" cy="509.5" r="3.3"/><path d="M683.8 519.4V516.6A3.8 3.8 0 0 1 687.6 512.8H694A3.8 3.8 0 0 1 697.8 516.6V519.4"/><path d="M686.6 517.4V519.4M695 517.4V519.4" stroke-width="0.8"/></g>
<text class="s" x="704.9" y="501.6" font-size="9.6" fill="#f2c062" text-anchor="middle">$</text>
<g fill="none" stroke="#9fd968" stroke-width="1.1" stroke-linecap="round" stroke-linejoin="round"><path d="M764.4 396.1A2.6 2.6 0 0 0 760.1 396.9A3.0 3.0 0 0 0 756.4 400.4A3.1 3.1 0 0 0 754.0 405.0A3.2 3.2 0 0 0 753.3 410.4A3.2 3.2 0 0 0 754.5 415.8A3.1 3.1 0 0 0 757.3 420.2A2.9 2.9 0 0 0 761.0 423.2A2.2 2.2 0 0 0 764.4 423.4Z"/><path d="M764.4 402.6L761.1 402.6M761.1 402.6L758.7 400.2M756.5 406.6L759.7 406.6M759.7 404.2L759.7 409.6M764.4 410.8L760.9 410.8M755.1 413.2L758.1 413.2M758.1 413.2L760.1 415.6M764.4 417.6L761.7 417.6M761.7 417.6L759.9 420.4M757.1 417.8L758.9 419.8" stroke-width="0.85"/><path d="M766.2 396.1A2.6 2.6 0 0 1 770.5 396.9A3.0 3.0 0 0 1 774.2 400.4A3.1 3.1 0 0 1 776.6 405.0A3.2 3.2 0 0 1 777.3 410.4A3.2 3.2 0 0 1 776.1 415.8A3.1 3.1 0 0 1 773.3 420.2A2.9 2.9 0 0 1 769.6 423.2A2.2 2.2 0 0 1 766.2 423.4Z"/><path d="M766.2 402.6L769.5 402.6M769.5 402.6L771.9 400.2M774.1 406.6L770.9 406.6M770.9 404.2L770.9 409.6M766.2 410.8L769.7 410.8M775.5 413.2L772.5 413.2M772.5 413.2L770.5 415.6M766.2 417.6L768.9 417.6M768.9 417.6L770.7 420.4M773.5 417.8L771.7 419.8" stroke-width="0.85"/></g>
<g fill="none" stroke="#5dd3c7" stroke-width="0.95" stroke-linecap="round" stroke-linejoin="round"><path d="M817.5 441.9H846.1V454.2L840.6 457.2Q837.6 453.4 835 455.6L831.8 457.6L828.6 455.6Q826 453.4 823 457.2L817.5 454.2Z"/><path d="M826.6 451.8H827.6M831.4 451.8H832.4M836 451.8H837" stroke-width="0.7"/><circle cx="821.8" cy="464.4" r="2.3"/><circle cx="841.8" cy="464.4" r="2.3"/><circle cx="831.7" cy="462.5" r="3"/><path d="M817.6 470.8V469.6A2.6 2.6 0 0 1 820.2 467H823.4A2.6 2.6 0 0 1 826 469.6M837.6 469.6A2.6 2.6 0 0 1 840.2 467H843.4A2.6 2.6 0 0 1 846 469.6V470.8M826.2 470.8V469.2A3.2 3.2 0 0 1 829.4 466H834A3.2 3.2 0 0 1 837.2 469.2V470.8"/></g>
<g fill="none" stroke="#79aae4" stroke-width="0.95" stroke-linecap="round" stroke-linejoin="round"><path d="M887.5 510.6A1.9 1.6 0 0 1 891.3 510.6V516.2Q891.4 517.6 893 518.6Q894.8 519.8 894.8 521.6V537.6H884.2V521.6Q884.2 519.8 886 518.6Q887.4 517.6 887.5 516.2Z"/><path d="M884.2 524.2H894.8" stroke-width="1.3"/><path d="M886.4 521.6L887.6 520.2" stroke-width="0.8"/><path d="M901.4 520.6H912.4Q913.6 522.6 913.4 525A6.5 6.5 0 0 1 900.4 525Q900.2 522.6 901.4 520.6ZM906.9 531.5V537.4M903.6 537.5H910.2"/><path d="M904.2 523.2Q903.2 525.4 904.6 527.4" stroke-width="0.8"/></g>
<rect x="793.2" y="622.3" width="220" height="18.7" fill="#000" fill-opacity="0.22"/>
<text class="s" x="803.6" y="635.6" font-size="11" fill="#fff" textLength="199.6" lengthAdjust="spacingAndGlyphs">ID:4471983 NO:20180306103401029000</text>
<text class="s" x="15.2" y="643.2" font-size="24" font-weight="bold" fill="#fff" fill-opacity="0.8" stroke="#8a8a8a" stroke-opacity="0.85" stroke-width="0.9" paint-order="stroke" textLength="80.5" lengthAdjust="spacingAndGlyphs">昵享网</text>
<text class="s" x="100.5" y="642.5" font-size="18.5" font-weight="bold" font-style="italic" fill="#fff" fill-opacity="0.8" stroke="#8a8a8a" stroke-opacity="0.85" stroke-width="0.9" paint-order="stroke" textLength="111" lengthAdjust="spacingAndGlyphs">www.nipic.cn</text>
</g>
</svg>
</body>
</html>
